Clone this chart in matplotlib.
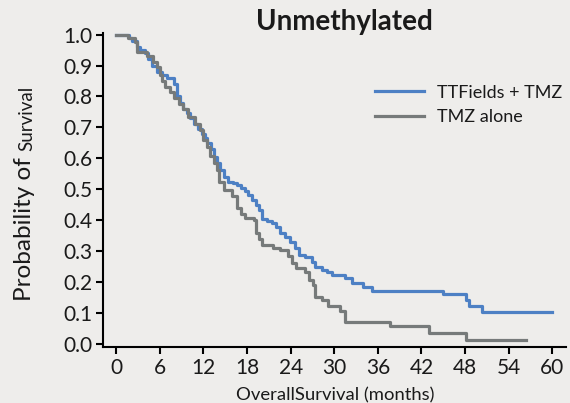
# Kaplan-Meier curves, unmethylated subgroup
import numpy as np
import matplotlib.pyplot as plt

plt.rcParams['font.family'] = ['Lato', 'DejaVu Sans']

# TTFields + TMZ (step curve, months / survival)
tt_time = [0, 1.7, 2.1, 2.8, 3.3, 4.0, 4.4, 4.9, 5.6, 6.3, 7.0, 7.9, 8.3, 8.8, 9.2,
           9.7, 10.2, 10.7, 11.3, 11.8, 12.2, 12.5, 13.0, 13.4, 13.9, 14.3, 14.8,
           15.4, 16.0, 16.6, 17.2, 17.7, 18.2, 18.7, 19.2, 19.6, 20.0, 20.7, 21.4,
           22.0, 22.6, 23.2, 23.9, 24.6, 25.1, 26.0, 26.9, 27.4, 28.3, 29.0, 29.7,
           31.5, 32.4, 34.0, 35.2, 45.0, 48.2, 48.6, 50.3, 60.0]
tt_surv = [1.0, 0.99, 0.98, 0.96, 0.95, 0.94, 0.92, 0.90, 0.88, 0.87, 0.86, 0.84, 0.80, 0.78, 0.76,
           0.745, 0.73, 0.71, 0.695, 0.68, 0.665, 0.65, 0.63, 0.605, 0.585, 0.563, 0.54,
           0.525, 0.52, 0.515, 0.505, 0.493, 0.48, 0.466, 0.45, 0.434, 0.404, 0.397, 0.39,
           0.377, 0.358, 0.347, 0.328, 0.31, 0.288, 0.28, 0.266, 0.25, 0.24, 0.232, 0.223,
           0.213, 0.198, 0.185, 0.172, 0.161, 0.142, 0.124, 0.103, 0.103]

# TMZ alone
tmz_time = [0, 1.6, 2.6, 2.8, 4.2, 5.1, 5.6, 6.0, 6.3, 6.7, 7.4, 7.9, 8.6, 9.2, 9.9,
            10.9, 11.5, 12.0, 12.5, 12.9, 13.4, 13.8, 14.1, 14.8, 15.9, 16.6, 17.2,
            17.7, 18.9, 19.3, 19.6, 20.0, 21.6, 22.6, 23.7, 24.2, 24.8, 26.0, 26.5,
            27.1, 27.4, 28.3, 29.2, 30.8, 31.5, 37.7, 43.0, 48.2, 56.4]
tmz_surv = [1.0, 0.99, 0.975, 0.945, 0.93, 0.91, 0.895, 0.87, 0.85, 0.83, 0.815, 0.795, 0.775, 0.76, 0.735,
            0.71, 0.69, 0.66, 0.635, 0.606, 0.585, 0.563, 0.525, 0.498, 0.477, 0.439, 0.42,
            0.407, 0.401, 0.358, 0.34, 0.32, 0.31, 0.302, 0.283, 0.261, 0.245, 0.234, 0.207,
            0.191, 0.153, 0.142, 0.121, 0.105, 0.072, 0.058, 0.035, 0.013, 0.013]

xticks = np.arange(0, 61, 6)
yticks = np.round(np.arange(0, 1.01, 0.1), 1)

bg = '#eeedeb'
blue = '#4d80c4'
grey = '#767a7a'
ink = '#1a1a1a'

fig = plt.figure(figsize=(5.7, 4.03), dpi=100, facecolor=bg)
ax = fig.add_axes([0.181, 0.139, 0.812, 0.779], facecolor=bg)

ax.step(tt_time, tt_surv, where='post', color=blue, lw=2.3, label='TTFields + TMZ')
ax.step(tmz_time, tmz_surv, where='post', color=grey, lw=2.3, label='TMZ alone')

ax.set_xlim(-1.8, 61.9)
ax.set_ylim(-0.01, 1.005)
ax.set_xticks(xticks)
ax.set_yticks(yticks)
ax.set_yticklabels([f'{v:.1f}' for v in yticks])
ax.tick_params(axis='both', length=5, width=1.5, labelsize=15, color='black',
               labelcolor=ink, pad=3)
for s in ['top', 'right']:
    ax.spines[s].set_visible(False)
for s in ['left', 'bottom']:
    ax.spines[s].set_linewidth(1.5)

leg = ax.legend(loc='upper left', bbox_to_anchor=(0.63, 0.83), bbox_transform=fig.transFigure,
                frameon=False, fontsize=13, handlelength=2.7, handletextpad=0.7,
                labelspacing=0.45)
for t in leg.get_texts():
    t.set_color(ink)

fig.text(0.605, 0.945, 'Unmethylated', ha='center', va='center', fontsize=20,
         fontweight='bold', color=ink)
fig.text(0.062, 0.253, 'Probability of', rotation=90, ha='right', va='bottom',
         fontsize=17.5, color=ink)
fig.text(0.062, 0.625, 'Survival', rotation=90, ha='right', va='bottom',
         fontsize=13.5, color=ink)
fig.text(0.588, 0.04, 'OverallSurvival (months)', ha='center', va='top',
         fontsize=13.3, color=ink)

fig.savefig('out.png', dpi=100, facecolor=bg)
